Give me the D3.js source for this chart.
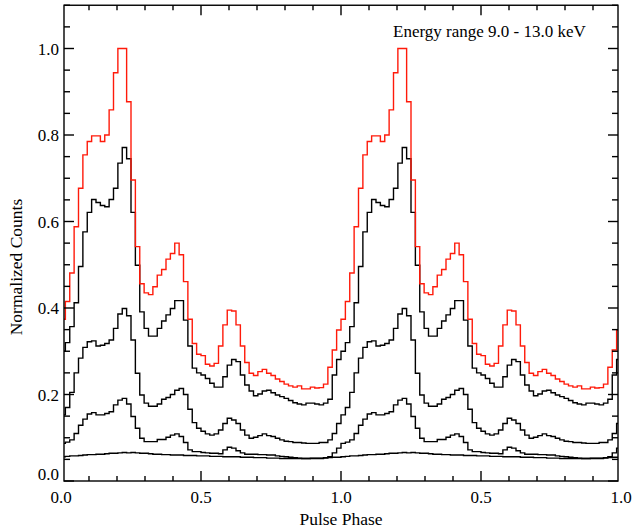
<!DOCTYPE html>
<html>
<head>
<meta charset="utf-8">
<script src="https://cdn.jsdelivr.net/npm/d3@7/dist/d3.min.js"></script>
<style>
  html, body { margin: 0; padding: 0; background: #fff; }
  svg { display: block; }
  text { font-family: "Liberation Serif", "Times New Roman", serif; fill: #000; }
</style>
</head>
<body>
<svg id="chart" width="632" height="529"></svg>
<script>
// ---- data: one pulse cycle, 64 phase bins; the figure shows it twice ----
const binsPerCycle = 64;
const cycles = [0, 1];

const seriesRed = [0.374, 0.415, 0.481, 0.588, 0.677, 0.754, 0.785, 0.798, 0.798, 0.785,
  0.800, 0.858, 0.944, 1.000, 1.000, 0.877, 0.696, 0.542, 0.456, 0.435,
  0.431, 0.449, 0.476, 0.489, 0.513, 0.526, 0.550, 0.523, 0.461, 0.374,
  0.318, 0.293, 0.290, 0.270, 0.266, 0.272, 0.312, 0.361, 0.395, 0.393,
  0.361, 0.312, 0.274, 0.249, 0.244, 0.253, 0.258, 0.249, 0.244, 0.236,
  0.230, 0.224, 0.220, 0.217, 0.220, 0.213, 0.213, 0.217, 0.215, 0.216,
  0.224, 0.263, 0.303, 0.349];

const seriesB1 = [0.300, 0.320, 0.357, 0.412, 0.496, 0.576, 0.621, 0.651, 0.644, 0.637,
  0.634, 0.651, 0.677, 0.735, 0.771, 0.745, 0.621, 0.499, 0.391, 0.353,
  0.335, 0.335, 0.353, 0.370, 0.384, 0.399, 0.417, 0.417, 0.372, 0.312,
  0.261, 0.250, 0.245, 0.237, 0.226, 0.217, 0.217, 0.241, 0.268, 0.281,
  0.276, 0.245, 0.222, 0.208, 0.197, 0.201, 0.208, 0.210, 0.204, 0.199,
  0.195, 0.191, 0.186, 0.181, 0.178, 0.176, 0.180, 0.180, 0.178, 0.176,
  0.180, 0.189, 0.245, 0.281];

const seriesB2 = [0.153, 0.170, 0.205, 0.250, 0.284, 0.309, 0.322, 0.324, 0.312, 0.314,
  0.318, 0.326, 0.353, 0.386, 0.399, 0.382, 0.326, 0.249, 0.199, 0.180,
  0.173, 0.173, 0.178, 0.189, 0.193, 0.200, 0.210, 0.214, 0.200, 0.166,
  0.135, 0.122, 0.115, 0.109, 0.106, 0.109, 0.118, 0.133, 0.145, 0.141,
  0.133, 0.118, 0.106, 0.099, 0.101, 0.105, 0.109, 0.105, 0.103, 0.099,
  0.095, 0.092, 0.091, 0.089, 0.089, 0.088, 0.087, 0.087, 0.087, 0.089,
  0.089, 0.095, 0.110, 0.133];

const seriesB3 = [0.087, 0.090, 0.095, 0.110, 0.129, 0.143, 0.155, 0.158, 0.153, 0.153,
  0.156, 0.160, 0.176, 0.187, 0.191, 0.178, 0.149, 0.122, 0.099, 0.091,
  0.091, 0.091, 0.096, 0.096, 0.101, 0.106, 0.109, 0.103, 0.089, 0.072,
  0.068, 0.068, 0.066, 0.065, 0.064, 0.064, 0.063, 0.072, 0.078, 0.076,
  0.070, 0.065, 0.062, 0.062, 0.062, 0.061, 0.061, 0.060, 0.060, 0.058,
  0.057, 0.056, 0.055, 0.054, 0.053, 0.052, 0.052, 0.052, 0.052, 0.052,
  0.053, 0.056, 0.065, 0.076];

const seriesB4 = [0.056, 0.057, 0.058, 0.058, 0.059, 0.060, 0.061, 0.061, 0.062, 0.062,
  0.063, 0.064, 0.064, 0.065, 0.066, 0.065, 0.066, 0.065, 0.064, 0.064,
  0.063, 0.062, 0.062, 0.061, 0.061, 0.060, 0.060, 0.060, 0.059, 0.059,
  0.059, 0.058, 0.058, 0.058, 0.057, 0.057, 0.057, 0.056, 0.056, 0.056,
  0.056, 0.055, 0.055, 0.055, 0.054, 0.054, 0.054, 0.053, 0.053, 0.053,
  0.052, 0.052, 0.052, 0.052, 0.052, 0.052, 0.052, 0.053, 0.053, 0.053,
  0.054, 0.054, 0.055, 0.055];

const seriesList = [seriesB4, seriesB3, seriesB2, seriesB1, seriesRed];
const seriesColors = ["#000000", "#000000", "#000000", "#000000", "#ff1a0a"];

const xMajorTicks = [0, 0.5, 1.0, 1.5, 2.0];
const xMajorLabels = ["0.0", "0.5", "1.0", "0.5", "1.0"];
const yMajorTicks = [0, 0.2, 0.4, 0.6, 0.8, 1.0];
const yMajorLabels = ["0.0", "0.2", "0.4", "0.6", "0.8", "1.0"];
const xLabel = "Pulse Phase";
const yLabel = "Normalized Counts";
const annotation = "Energy range 9.0 - 13.0 keV";

// ---- layout ----
const svg = d3.select("#chart");
const frame = { left: 64, right: 618, top: 5.25, bottom: 481 };
const x = d3.scaleLinear().domain([0, 2]).range([61, 621]);
const y = d3.scaleLinear().domain([0, 1.1]).range([481, 5.25]);

svg.append("defs").append("clipPath").attr("id", "plotclip")
  .append("rect")
  .attr("x", frame.left).attr("y", frame.top)
  .attr("width", frame.right - frame.left).attr("height", frame.bottom - frame.top);

// ---- step histograms ----
const line = d3.line().x(d => x(d[0])).y(d => y(d[1])).curve(d3.curveStepAfter);
const gCurves = svg.append("g").attr("clip-path", "url(#plotclip)");
seriesList.forEach((vals, si) => {
  const pts = [];
  cycles.forEach(c => {
    vals.forEach((v, i) => pts.push([c + i / binsPerCycle, v]));
  });
  pts.push([cycles.length, vals[vals.length - 1]]);
  gCurves.append("path")
    .attr("d", line(pts))
    .attr("fill", "none")
    .attr("stroke", seriesColors[si])
    .attr("stroke-width", 1.4)
    .attr("stroke-linejoin", "miter");
});

// ---- frame & ticks ----
const gAx = svg.append("g").attr("stroke", "#000").attr("stroke-width", 1.4);
gAx.append("rect")
  .attr("x", frame.left).attr("y", frame.top)
  .attr("width", frame.right - frame.left).attr("height", frame.bottom - frame.top)
  .attr("fill", "none");

const inX = v => x(v) >= frame.left - 0.5 && x(v) <= frame.right + 0.5;
const xMinor = d3.range(0, 21).map(i => i / 10);
xMinor.forEach(v => {
  if (!inX(v)) return;
  const major = xMajorTicks.some(t => Math.abs(t - v) < 1e-9);
  const len = major ? 10 : 5;
  gAx.append("line").attr("x1", x(v)).attr("x2", x(v))
    .attr("y1", frame.bottom).attr("y2", frame.bottom - len);
  gAx.append("line").attr("x1", x(v)).attr("x2", x(v))
    .attr("y1", frame.top).attr("y2", frame.top + len);
});
const yMinor = d3.range(0, 23).map(i => i * 0.05);
yMinor.forEach(v => {
  const major = yMajorTicks.some(t => Math.abs(t - v) < 1e-9);
  const len = major ? 10 : 6;
  gAx.append("line").attr("x1", frame.left).attr("x2", frame.left + len)
    .attr("y1", y(v)).attr("y2", y(v));
  gAx.append("line").attr("x1", frame.right).attr("x2", frame.right - len)
    .attr("y1", y(v)).attr("y2", y(v));
});

// ---- labels ----
xMajorTicks.forEach((t, i) => {
  svg.append("text").attr("x", x(t)).attr("y", 503)
    .attr("text-anchor", "middle").attr("font-size", 17)
    .text(xMajorLabels[i]);
});
yMajorTicks.forEach((t, i) => {
  svg.append("text").attr("x", 59).attr("y", y(t) + (t === 0 ? -1 : 6))
    .attr("text-anchor", "end").attr("font-size", 17)
    .text(yMajorLabels[i]);
});
svg.append("text").attr("x", 341).attr("y", 525)
  .attr("text-anchor", "middle").attr("font-size", 17.5).text(xLabel);
svg.append("text")
  .attr("transform", "translate(22,267) rotate(-90)")
  .attr("text-anchor", "middle").attr("font-size", 17.5).text(yLabel);
svg.append("text").attr("x", 393).attr("y", 37)
  .attr("font-size", 17).text(annotation);
</script>
</body>
</html>
